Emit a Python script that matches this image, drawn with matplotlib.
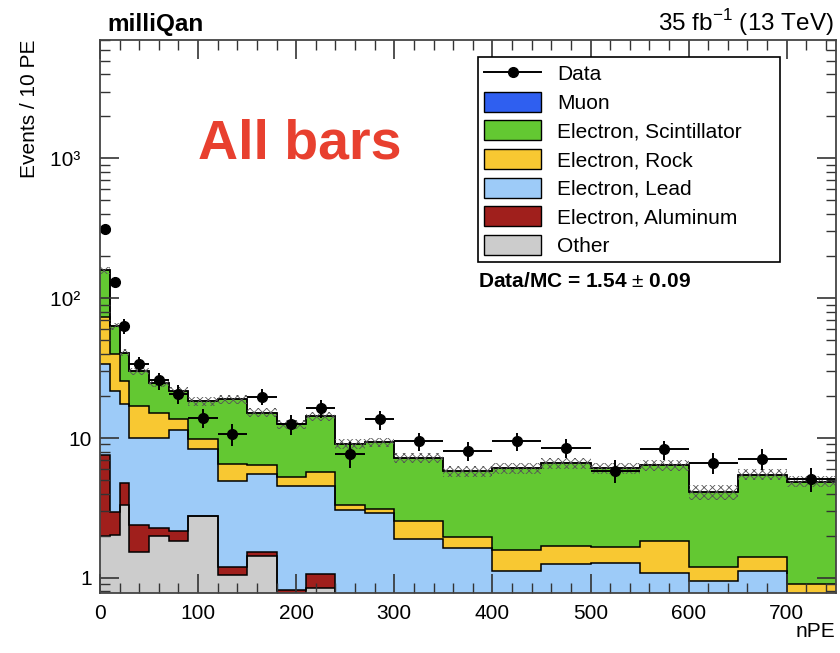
import numpy as np
import matplotlib.pyplot as plt
from matplotlib.patches import Patch
from matplotlib.lines import Line2D
from matplotlib.ticker import MultipleLocator, LogLocator, FixedLocator, FuncFormatter, NullFormatter

plt.rcParams['font.family'] = ['Liberation Sans', 'DejaVu Sans']
plt.rcParams['mathtext.fontset'] = 'custom'
plt.rcParams['mathtext.rm'] = 'Liberation Sans'
plt.rcParams['hatch.linewidth'] = 0.6

# bin edges in nPE
bin_edges = [0, 10, 20, 30, 50, 70, 90, 120, 150, 180, 210, 240, 270, 300,
             350, 400, 450, 500, 550, 600, 650, 700, 750]

# stacked MC components (events / 10 PE)
other = [1.98, 2.03, 3.3, 1.54, 1.98, 1.82, 2.75, 1.05, 1.44, 0, 0.84,
         0, 0, 0, 0, 0, 0, 0, 0, 0, 0, 0]
aluminum = [5.6, 0.95, 1.5, 0.86, 0.29, 0.33, 0, 0.15, 0.10, 0.82, 0.22,
            0, 0, 0, 0, 0, 0, 0, 0, 0, 0, 0]
lead = [26.0, 18.7, 12.6, 7.6, 7.7, 9.35, 5.53, 3.7, 4.03, 3.69, 3.45,
        3.07, 2.91, 1.89, 1.63, 1.11, 1.26, 1.27, 1.08, 0.95, 1.11, 0]
rock = [39.4, 18.0, 8.1, 6.9, 5.1, 2.1, 1.52, 1.63, 0.88, 0.76, 1.18,
        0.27, 0.19, 0.67, 0.32, 0.48, 0.44, 0.38, 0.74, 0.25, 0.30, 0.9]
scintillator = [85, 23.3, 15.3, 13.2, 9.7, 8.1, 8.5, 12.4, 8.75, 7.23, 8.6,
                5.76, 6.2, 4.69, 3.83, 4.51, 4.94, 4.45, 4.58, 2.9, 4.06, 3.97]
muon = [0] * 22

# relative MC uncertainty (hatched band)
mc_unc = [0.06, 0.06, 0.06, 0.06, 0.07, 0.07, 0.07, 0.07, 0.07, 0.07, 0.07,
          0.08, 0.08, 0.08, 0.09, 0.09, 0.09, 0.09, 0.09, 0.12, 0.09, 0.09]

data = [312, 131, 63.3, 33.6, 25.8, 20.7, 13.96, 10.7, 19.7, 12.5, 16.3,
        7.74, 13.6, 9.49, 8.13, 9.49, 8.5, 5.85, 8.28, 6.64, 7.1, 5.13]
data_err = [17.7, 11.4, 8.0, 4.1, 3.6, 3.2, 2.2, 1.9, 2.6, 2.0, 2.3,
            1.6, 2.1, 1.4, 1.3, 1.4, 1.3, 1.1, 1.3, 1.15, 1.2, 1.0]

labels = ['Muon', 'Electron, Scintillator', 'Electron, Rock',
          'Electron, Lead', 'Electron, Aluminum', 'Other']
colors = ['#2f5ff0', '#63c832', '#f8c832', '#9dcbf8', '#a01f1c', '#cccccc']

edges = np.array(bin_edges, dtype=float)
centers = 0.5 * (edges[1:] + edges[:-1])
halfw = 0.5 * (edges[1:] - edges[:-1])

# bottom -> top
comps = [other, aluminum, lead, rock, scintillator, muon]
comp_colors = colors[::-1]
cum = np.cumsum(np.array(comps, dtype=float), axis=0)

fig = plt.figure(figsize=(8.4, 6.53), dpi=100)
ax = fig.add_axes([0.119, 0.092, 0.876, 0.847])
ax.set_yscale('log')
ymin, ymax = 0.78, 7040

for top, c in zip(cum[::-1], comp_colors[::-1]):
    t = np.maximum(top, 1e-3)
    ax.stairs(t, edges, baseline=1e-3, fill=True, color=c, lw=0)
for top in cum:
    t = np.maximum(top, 1e-3)
    ax.stairs(t, edges, baseline=None, color='black', lw=1.1)

total = cum[-1]
unc = np.array(mc_unc)
ax.stairs(total * (1 + unc), edges, baseline=total * (1 - unc), fill=True,
          facecolor='none', edgecolor='#555555', hatch='xxxx', lw=0)

ax.errorbar(centers, data, xerr=halfw, yerr=data_err, fmt='o', color='black',
            ms=7, elinewidth=1.4, capsize=0)

ax.set_xlim(0, 750)
ax.set_ylim(ymin, ymax)

ax.xaxis.set_major_locator(MultipleLocator(100))
ax.xaxis.set_minor_locator(MultipleLocator(20))
ax.yaxis.set_major_locator(FixedLocator([1, 10, 100, 1000]))
ax.yaxis.set_minor_locator(LogLocator(base=10, subs=np.arange(2, 10)))
ax.yaxis.set_minor_formatter(NullFormatter())
sup = {0: '1', 1: '10', 2: '10²  ', 3: '10³  '}
ax.yaxis.set_major_formatter(FuncFormatter(lambda v, p: sup.get(int(round(np.log10(v))), '')))
ax.tick_params(which='both', direction='in', top=True, right=True,
               labelsize=15, color='#333333')
ax.tick_params(which='major', length=14, width=1.2)
ax.tick_params(which='minor', length=7, width=1.0)
ax.tick_params(axis='x', pad=8)
ax.tick_params(axis='y', pad=6)
for s in ax.spines.values():
    s.set_linewidth(1.3)
    s.set_color('#444444')

ax.set_ylabel('Events / 10 PE', loc='top', fontsize=15)
ax.yaxis.set_label_coords(-0.083, 1.0)
ax.set_xlabel('nPE', loc='right', fontsize=15)
ax.xaxis.set_label_coords(1.0, -0.052)

handles = [Line2D([], [], color='black', marker='o', ms=7, lw=1.4)]
handles += [Patch(facecolor=c, edgecolor='black', lw=1.0) for c in colors]
leg = ax.legend(handles, ['Data'] + labels, loc='upper left',
                bbox_to_anchor=(0.514, 0.969, 0.41, 0.0), mode='expand',
                fontsize=15, frameon=True, fancybox=False, edgecolor='black',
                framealpha=1, borderaxespad=0, labelspacing=0.36,
                handlelength=2.7, handleheight=1.1, borderpad=0.3)
leg.get_frame().set_linewidth(1.2)

ax.text(0.514, 0.553, 'Data/MC = 1.54 $\\pm$ 0.09', transform=ax.transAxes,
        fontsize=15, fontweight='bold', ha='left', va='baseline')
ax.text(0.272, 0.81, 'All bars', transform=ax.transAxes, fontsize=40,
        fontweight='bold', color='#e8402f', ha='center', va='center')

fig.text(0.128, 0.9525, 'milliQan', fontsize=17.5, fontweight='bold',
         ha='left', va='baseline')
fig.text(0.992, 0.9525, '35 fb$^{-1}$ (13 TeV)', fontsize=17.5,
         ha='right', va='baseline')

fig.savefig('out.png', dpi=100)
